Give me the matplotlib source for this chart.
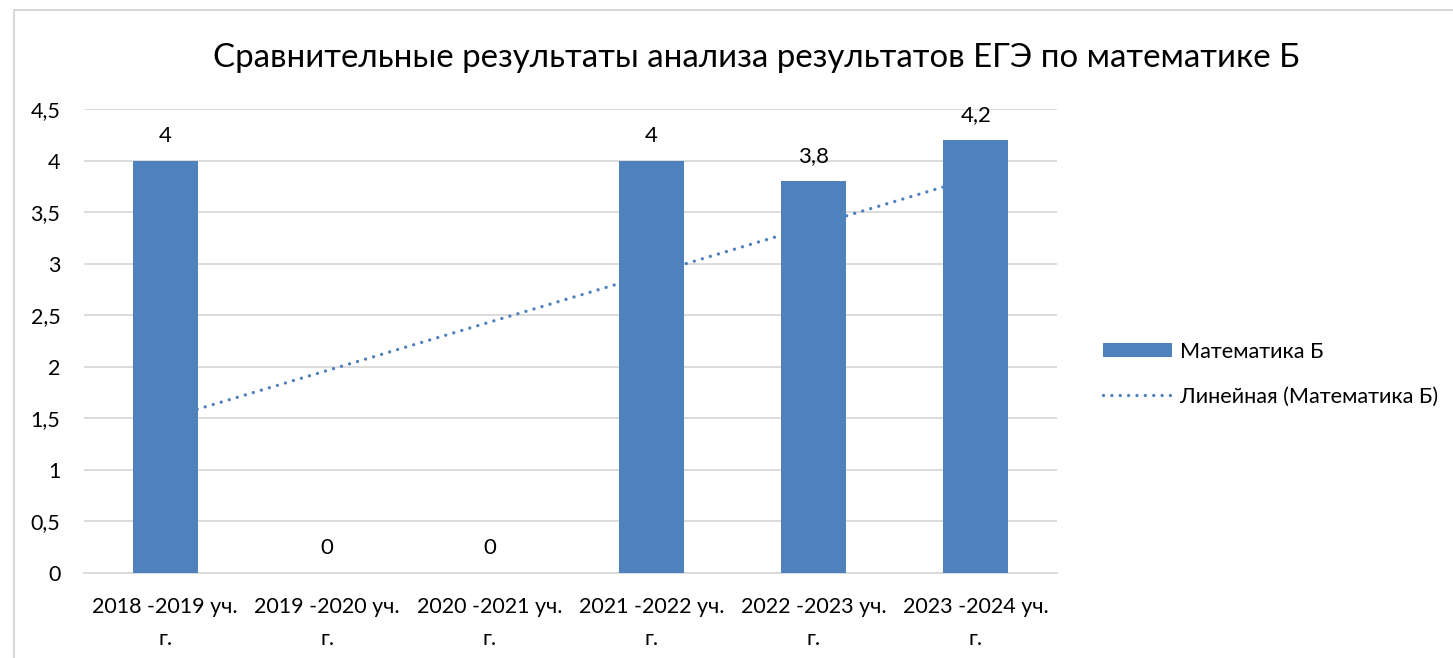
import numpy as np
import matplotlib
matplotlib.use("Agg")
import matplotlib.pyplot as plt
from matplotlib.patches import Rectangle, Patch
from matplotlib.lines import Line2D

categories = ["2018 -2019 уч.\nг.", "2019 -2020 уч.\nг.", "2020 -2021 уч.\nг.",
              "2021 -2022 уч.\nг.", "2022 -2023 уч.\nг.", "2023 -2024 уч.\nг."]
values = [4, 0, 0, 4, 3.8, 4.2]
series_name = "Математика Б"
trend_name = "Линейная (Математика Б)"
title = "Сравнительные результаты анализа результатов ЕГЭ по математике Б"
yticks = [0, 0.5, 1, 1.5, 2, 2.5, 3, 3.5, 4, 4.5]

plt.rcParams['font.family'] = ['Lato', 'DejaVu Sans']
BLUE = "#4F81BD"
GRID = "#D9D9D9"
TXT = "#000000"
DOTS = (0, (0.01, 2.5))

W, H = 1453, 658
fig = plt.figure(figsize=(W/100, H/100), dpi=100)
fig.patches.append(Rectangle((14/W, -0.1), 1.2, 1 - 10/H + 0.1, transform=fig.transFigure,
                             fill=False, edgecolor="#D0D0D0", linewidth=1.2))

ax = fig.add_axes([84/W, 1 - 573/H, (1057 - 84)/W, (573 - 109)/H])
x = np.arange(len(values))
ax.bar(x, values, width=0.4, color=BLUE, zorder=3)

# linear trend line (least squares fit of the series)
coef = np.polyfit(x, values, 1)
xt = np.array([x[0], x[-1]])
ax.plot(xt, np.polyval(coef, xt), linestyle=DOTS, color=BLUE, linewidth=2.4,
        dash_capstyle="round", zorder=2)

ax.set_xlim(-0.5, len(values) - 0.5)
ax.set_ylim(0, 4.5)
ax.set_yticks(yticks)
ax.set_yticklabels([f"{t:g}".replace(".", ",") for t in yticks])
ax.set_xticks(x)
ax.set_xticklabels(categories, linespacing=1.75)
ax.tick_params(axis="both", length=0, labelsize=15.5, colors=TXT)
ax.tick_params(axis="y", pad=17)
ax.tick_params(axis="x", pad=17)
ax.grid(axis="y", color=GRID, linewidth=1.3, zorder=0)
for s in ["top", "right", "left"]:
    ax.spines[s].set_visible(False)
ax.spines["bottom"].set_color(GRID)
ax.spines["bottom"].set_linewidth(1.3)
ax.set_axisbelow(True)

for xi, v in zip(x, values):
    ax.annotate(f"{v:g}".replace(".", ","), (xi, v), xytext=(0, 18), textcoords="offset points",
                ha="center", va="center", fontsize=16, color=TXT)

fig.text(756/W, 1 - 58/H, title, ha="center", va="center", fontsize=23.8, color=TXT)

handles = [Patch(facecolor=BLUE, edgecolor="none"),
           Line2D([0], [0], color=BLUE, linestyle=DOTS, linewidth=2.4, dash_capstyle="round")]
fig.legend(handles, [series_name, trend_name], loc="center left",
           bbox_to_anchor=(1083/W, 1 - 374/H), frameon=False, fontsize=15.6,
           handlelength=3.2, handleheight=0.65, labelspacing=1.15, handletextpad=0.36)

fig.savefig("out.png", dpi=100)
